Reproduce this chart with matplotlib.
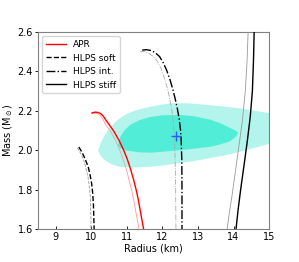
import matplotlib
matplotlib.use("Agg")
import matplotlib.pyplot as plt

# credible regions (radius km, mass Msun)
outer_r = [10.19, 10.30, 10.42, 10.55, 10.75, 11.0, 11.3, 11.65, 12.0, 12.3, 12.7, 13.0, 13.34, 13.8, 14.18, 14.6, 15.0, 15.4,
           15.4, 15.0, 14.6, 14.18, 13.8, 13.34, 12.9, 12.5, 12.0, 11.65, 11.2, 10.81, 10.55, 10.39, 10.26]
outer_m = [2.00, 2.05, 2.09, 2.12, 2.155, 2.185, 2.205, 2.22, 2.232, 2.238, 2.238, 2.234, 2.228, 2.22, 2.212, 2.20, 2.188, 2.17,
           2.02, 2.032, 2.012, 1.992, 1.975, 1.96, 1.945, 1.935, 1.922, 1.916, 1.912, 1.915, 1.93, 1.948, 1.972]
inner_r = [10.75, 10.82, 10.93, 11.09, 11.35, 11.65, 12.0, 12.5, 12.9, 13.34, 13.65, 13.90, 14.05, 14.13, 14.08, 13.90,
           13.6, 13.34, 12.9, 12.5, 12.0, 11.65, 11.3, 10.95, 10.8]
inner_m = [2.026, 2.07, 2.10, 2.128, 2.152, 2.168, 2.177, 2.179, 2.172, 2.155, 2.135, 2.113, 2.10, 2.09, 2.07, 2.045,
           2.028, 2.017, 2.008, 2.0, 1.992, 1.987, 1.99, 2.0, 2.012]
best_r, best_m = 12.38, 2.072

# mass-radius curves (dark = main, light = companion)
apr_r = [10.02, 10.10, 10.18, 10.26, 10.34, 10.42, 10.62, 10.78, 10.91, 11.02, 11.11, 11.19, 11.26, 11.32, 11.37, 11.42, 11.47, 11.52]
apr_m = [2.189, 2.193, 2.192, 2.186, 2.172, 2.15, 2.10, 2.05, 2.00, 1.95, 1.90, 1.85, 1.80, 1.75, 1.70, 1.65, 1.60, 1.55]
apr2_r = [10.02, 10.10, 10.18, 10.25, 10.32, 10.40, 10.53, 10.68, 10.80, 10.90, 10.99, 11.06, 11.13, 11.19, 11.24, 11.29, 11.34, 11.39]
apr2_m = [2.186, 2.188, 2.185, 2.176, 2.16, 2.13, 2.10, 2.05, 2.00, 1.95, 1.90, 1.85, 1.80, 1.75, 1.70, 1.65, 1.60, 1.55]

soft_r = [9.65, 9.72, 9.79, 9.86, 9.92, 9.97, 10.01, 10.04, 10.06, 10.07, 10.08, 10.09]
soft_m = [2.016, 1.995, 1.97, 1.94, 1.91, 1.87, 1.83, 1.78, 1.72, 1.66, 1.60, 1.55]
soft2_r = [9.61, 9.68, 9.75, 9.81, 9.86, 9.91, 9.94, 9.97, 9.98, 9.99, 9.99, 9.99]
soft2_m = [2.012, 1.99, 1.965, 1.935, 1.90, 1.86, 1.82, 1.77, 1.71, 1.65, 1.60, 1.55]

int_r = [11.43, 11.55, 11.68, 11.80, 11.92, 12.02, 12.12, 12.21, 12.29, 12.36, 12.42, 12.47, 12.51, 12.53, 12.545, 12.55, 12.55, 12.55]
int_m = [2.508, 2.51, 2.506, 2.495, 2.475, 2.445, 2.405, 2.36, 2.31, 2.26, 2.21, 2.16, 2.10, 2.04, 1.95, 1.80, 1.60, 1.55]
int2_r = [11.37, 11.50, 11.63, 11.75, 11.86, 11.96, 12.05, 12.13, 12.20, 12.26, 12.30, 12.33, 12.35, 12.37, 12.38, 12.38]
int2_m = [2.50, 2.50, 2.49, 2.475, 2.45, 2.415, 2.37, 2.32, 2.265, 2.21, 2.15, 2.08, 2.00, 1.85, 1.60, 1.55]

stiff_r = [14.59, 14.58, 14.56, 14.53, 14.47, 14.39, 14.30, 14.20, 14.13, 14.07, 14.04]
stiff_m = [2.65, 2.60, 2.45, 2.30, 2.17, 2.05, 1.93, 1.80, 1.70, 1.60, 1.55]
stiff2_r = [14.42, 14.41, 14.38, 14.33, 14.25, 14.15, 14.05, 13.95, 13.88, 13.82, 13.79]
stiff2_m = [2.65, 2.60, 2.45, 2.30, 2.15, 2.02, 1.89, 1.76, 1.68, 1.60, 1.55]

fig = plt.figure(figsize=(2.99, 2.62), dpi=100)
ax = fig.add_axes([0.127, 0.126, 0.773, 0.752])

ax.fill(outer_r, outer_m, color='#b3f5ec', lw=0, zorder=1)
ax.fill(inner_r, inner_m, color='#52edd7', lw=0, zorder=2)
ax.plot(best_r, best_m, '+', color='#2060ff', ms=7, mew=1.0, zorder=5)

ax.plot(apr2_r, apr2_m, color='#ff9999', lw=0.6, zorder=3)
ax.plot(apr_r, apr_m, color='red', lw=1.0, label='APR', zorder=4)
ax.plot(soft2_r, soft2_m, color='#999999', lw=0.6, ls='--', zorder=3)
ax.plot(soft_r, soft_m, color='black', lw=1.0, ls='--', label='HLPS soft', zorder=4)
ax.plot(int2_r, int2_m, color='#aaaaaa', lw=0.6, ls='-.', zorder=3)
ax.plot(int_r, int_m, color='black', lw=1.0, ls='-.', label='HLPS int.', zorder=4)
ax.plot(stiff2_r, stiff2_m, color='#999999', lw=0.6, zorder=3)
ax.plot(stiff_r, stiff_m, color='black', lw=1.0, label='HLPS stiff', zorder=4)

ax.set_xlim(8.5, 15)
ax.set_ylim(1.6, 2.6)
ax.set_xticks([9, 10, 11, 12, 13, 14, 15])
ax.set_yticks([1.6, 1.8, 2.0, 2.2, 2.4, 2.6])
ax.tick_params(axis='x', direction='in', length=2.5, width=0.6, labelsize=7, pad=2)
ax.tick_params(axis='y', direction='out', length=2.5, width=0.6, labelsize=7, pad=1)
for s in ax.spines.values():
    s.set_color('#808080')
    s.set_linewidth(0.8)
ax.set_xlabel('Radius (km)', fontsize=7, labelpad=1)
ax.set_ylabel(r'Mass (M$_\odot$)', fontsize=7, labelpad=2)
ax.legend(loc='upper left', fontsize=6.5, handlelength=2.2, borderpad=0.4, labelspacing=0.5)

fig.savefig('out.png', dpi=100)
